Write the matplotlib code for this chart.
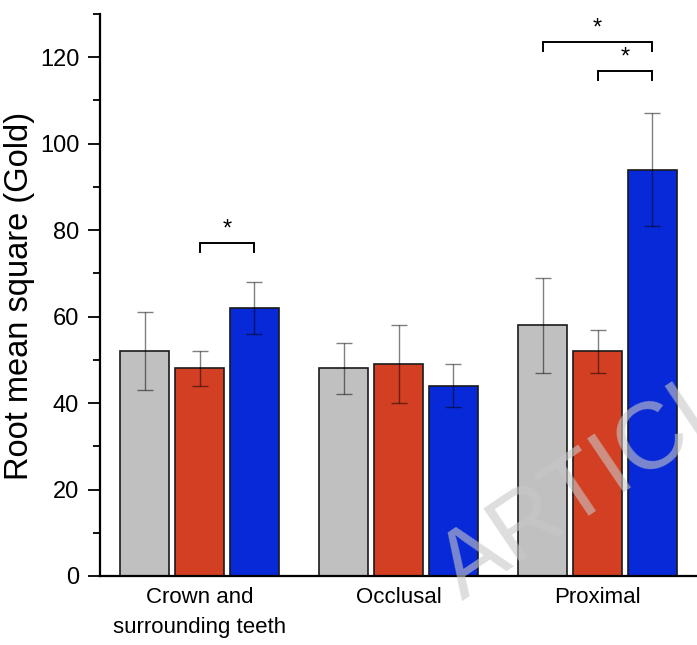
import matplotlib
matplotlib.use("Agg")
import matplotlib.pyplot as plt
import numpy as np
from matplotlib.ticker import MultipleLocator

plt.rcParams['font.family'] = ['Liberation Sans', 'DejaVu Sans']

categories = ["Crown and\nsurrounding teeth", "Occlusal", "Proximal"]
series_names = ["Group A", "Group B", "Group C"]
values = {
    "Group A": [52, 48, 58],
    "Group B": [48, 49, 52],
    "Group C": [62, 44, 94],
}
errors = {
    "Group A": [9, 6, 11],
    "Group B": [4, 9, 5],
    "Group C": [6, 5, 13],
}
colors = ["#C0C0C0", "#D33F23", "#0829D8"]

fig = plt.figure(figsize=(6.97, 6.45), dpi=100)
ax = fig.add_axes([100/697, 1 - 576/645, 597/697, (576-14)/645])

x = np.arange(1, len(categories) + 1)
width = 0.25
offsets = [-0.276, 0.0, 0.276]
for name, off, c in zip(series_names, offsets, colors):
    ax.bar(x + off, values[name], width, color=c, edgecolor="#1a1a1a", linewidth=1.2, zorder=2)
    ax.errorbar(x + off, values[name], yerr=errors[name], fmt="none", ecolor="black",
                alpha=0.5, elinewidth=1.0, capsize=5.5, capthick=1.0, zorder=3)

def bracket(x1, x2, y, h=2.0):
    ax.plot([x1, x1, x2, x2], [y - h, y, y, y - h], color="black", lw=1.4, zorder=4,
            solid_joinstyle="miter")
    ax.text((x1 + x2) / 2, y + 0.6, "*", ha="center", va="bottom", fontsize=17)

bracket(1 + offsets[1], 1 + offsets[2], 77.0)
bracket(3 + offsets[0], 3 + offsets[2], 123.5)
bracket(3 + offsets[1], 3 + offsets[2], 116.8)

ax.set_xlim(0.5, 3.5)
ax.set_ylim(0, 130)
ax.set_xticks(x)
ax.set_xticklabels(categories, fontsize=16, linespacing=1.55)
ax.tick_params(axis="x", length=0, pad=8)
ax.yaxis.set_major_locator(MultipleLocator(20))
ax.yaxis.set_minor_locator(MultipleLocator(10))
ax.tick_params(axis="y", which="major", length=9, width=1.3, labelsize=17, direction="out", pad=6)
ax.tick_params(axis="y", which="minor", length=5, width=1.3, direction="out")
ax.set_yticks(np.arange(0, 121, 20))
ax.spines["top"].set_visible(False)
ax.spines["right"].set_visible(False)
ax.spines["left"].set_linewidth(1.6)
ax.spines["bottom"].set_linewidth(1.6)
ax.set_ylabel("Root mean square (Gold)", fontsize=23.5, va="center")
ax.yaxis.set_label_coords(-80/597, (576-296)/562)

fig.text(0.88, 0.272, "ARTICLE", fontsize=68, color="#C8C8C8", alpha=0.6,
         rotation=34, ha="center", va="center", rotation_mode="anchor", zorder=10)

fig.savefig("out.png", dpi=100)
